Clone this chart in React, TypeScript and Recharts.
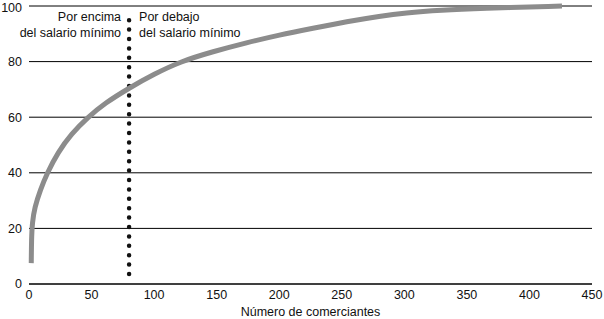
import { LineChart, Line, XAxis, YAxis, CartesianGrid, ReferenceLine } from 'recharts';

const traders = [1.8, 2, 2.6, 4.5, 9, 14.6, 23.2, 33.8, 47.2, 60.5, 80, 100, 121, 147, 174, 200, 227, 254, 281, 300, 330, 360, 426];
const share = [7.5, 16, 22, 27.5, 33.8, 40, 47.4, 54, 60, 65, 70.5, 75.5, 80, 83.6, 86.8, 89.6, 92, 94.4, 96.4, 97.5, 98.5, 99.1, 100];
const xTicks = [0, 50, 100, 150, 200, 250, 300, 350, 400, 450];
const yTicks = [0, 20, 40, 60, 80, 100];
const minWage = 80;
const dotSpan = [3.6, 97.5];
const leftLabel = ['Por encima', 'del salario mínimo'];
const rightLabel = ['Por debajo', 'del salario mínimo'];

const data = traders.map((x, i) => ({ x, y: share[i] }));

const font = { fontFamily: '"Liberation Sans", Arial, sans-serif', fontSize: 12.5, fill: '#111' };

function SideLabels({ viewBox }: any) {
  const x = viewBox.x;
  return (
    <g>
      <text x={x - 8} y={21} textAnchor="end" {...font}>{leftLabel[0]}</text>
      <text x={x - 8} y={37} textAnchor="end" {...font}>{leftLabel[1]}</text>
      <text x={x + 10} y={21} textAnchor="start" {...font}>{rightLabel[0]}</text>
      <text x={x + 10} y={37} textAnchor="start" {...font}>{rightLabel[1]}</text>
    </g>
  );
}

export default function App() {
  return (
    <div style={{ position: 'absolute', left: 0, top: 0, background: '#fff' }}>
      <LineChart width={604} height={319} data={data} margin={{ top: 6, right: 12, left: 0, bottom: 0 }}>
        <CartesianGrid vertical={false} stroke="#000" strokeWidth={1} />
        <XAxis
          type="number"
          dataKey="x"
          domain={[0, 450]}
          ticks={xTicks}
          height={35}
          stroke="#000"
          tickLine={false}
          tickSize={0}
          tickMargin={6}
          tick={font}
          label={{ value: 'Número de comerciantes', position: 'insideBottom', offset: 3, style: font }}
        />
        <YAxis
          type="number"
          domain={[0, 100]}
          ticks={yTicks}
          width={29}
          axisLine={false}
          tickLine={false}
          tickSize={0}
          tickMargin={7}
          tick={font}
        />
        <ReferenceLine
          segment={[{ x: minWage, y: dotSpan[0] }, { x: minWage, y: dotSpan[1] }]}
          stroke="#111"
          strokeWidth={4.5}
          strokeDasharray="0 9.4"
          strokeLinecap="round"
        />
        <ReferenceLine x={minWage} stroke="none" label={(props: any) => <SideLabels {...props} />} />
        <Line
          type="basis"
          dataKey="y"
          stroke="#8c8c8c"
          strokeWidth={5}
          dot={false}
          isAnimationActive={false}
        />
      </LineChart>
    </div>
  );
}
